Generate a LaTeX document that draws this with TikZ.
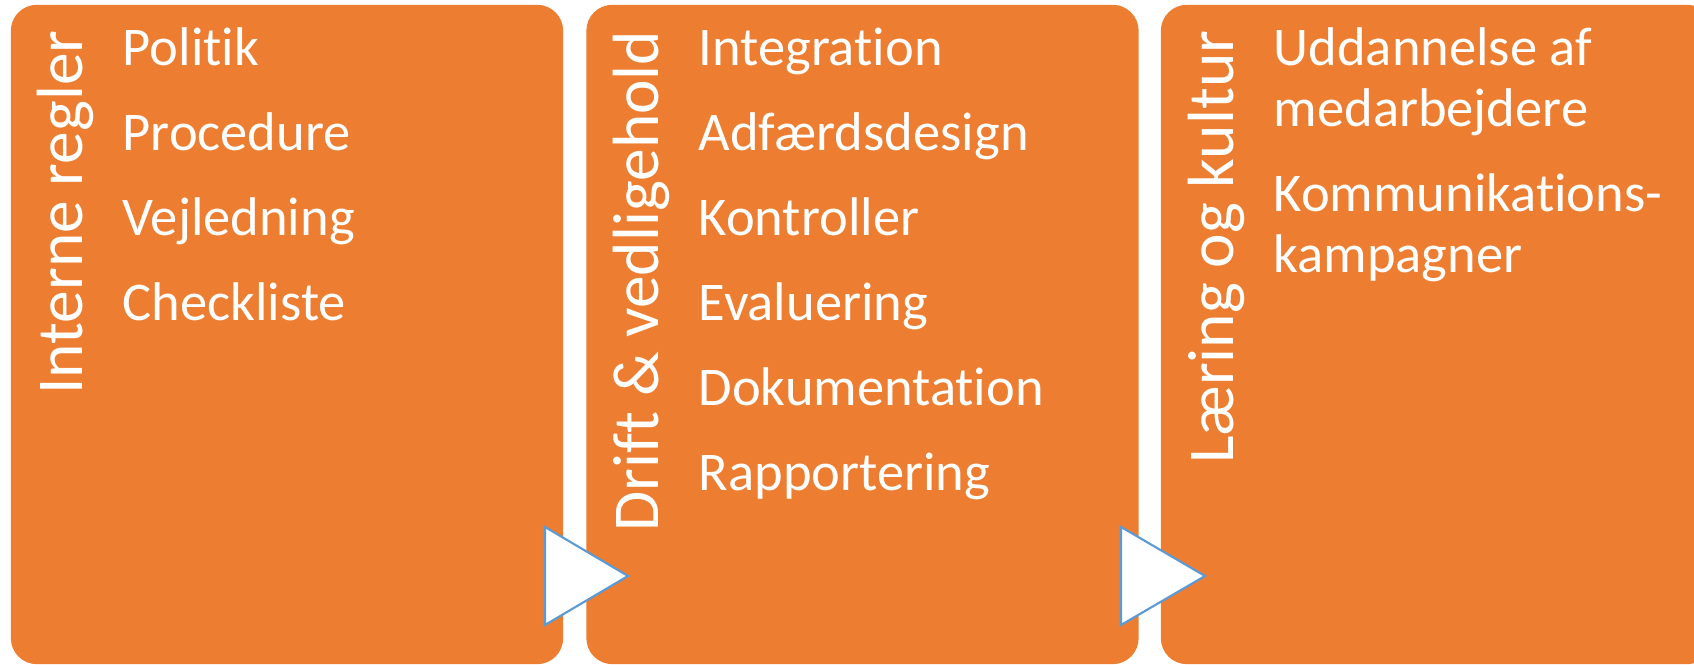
\documentclass[tikz,border=0pt]{standalone}
\usepackage{fontspec}
\setmainfont[Ligatures=NoCommon]{Carlito}

\definecolor{stageorange}{HTML}{ED7D31}
\definecolor{stepblue}{HTML}{5B9BD5}

\tikzstyle{stage}=[fill=stageorange, rounded corners=0.26cm, minimum width=5.52cm, minimum height=6.59cm, inner sep=0pt]
\tikzstyle{heading}=[text=white, rotate=90, anchor=base east, inner sep=0pt, font=\fontsize{18.6}{22}\selectfont]
\tikzstyle{item}=[text=white, anchor=base west, inner sep=0pt, align=left, font=\fontsize{15.5}{17.4}\selectfont]
\tikzstyle{arrow}=[fill=white, draw=stepblue, line width=0.6pt, line join=miter]

\begin{document}
\begin{tikzpicture}[x=0.01cm, y=-0.01cm]
      \useasboundingbox (0,0) rectangle (1694,665);
      \clip (0,0) rectangle (1694,665);

      \node[stage] (regler) at (287,334.5) {};
      \node[stage] (drift) at (862.5,334.5) {};
      \node[stage] (kultur) at (1437,334.5) {};

      \node[heading] (regler-title) at (82,30) {Interne regler};
      \node[heading] (drift-title) at (658,30) {Drift \& vedligehold};
      \node[heading] (kultur-title) at (1233,30) {Læring og kultur};

      \foreach \name [count=\i from 0] in {Politik, Procedure, Vejledning, Checkliste}
        \node[item] (regler-\i) at (122,{66+85*\i}) {\name};
      \foreach \name [count=\i from 0] in {Integration, Adfærdsdesign, Kontroller, Evaluering, Dokumentation, Rapportering}
        \node[item] (drift-\i) at (698,{66+85*\i}) {\name};
      % two-line items: base is the last line
      \node[item] (kultur-0) at (1273,127) {Uddannelse af\\medarbejdere};
      \node[item] (kultur-1) at (1273,273) {Kommunikations-\\kampagner};

      \draw[arrow] (545,527) -- (628,576) -- (545,625) -- cycle;
      \draw[arrow] (1121,527) -- (1205,576) -- (1121,625) -- cycle;
\end{tikzpicture}
\end{document}
